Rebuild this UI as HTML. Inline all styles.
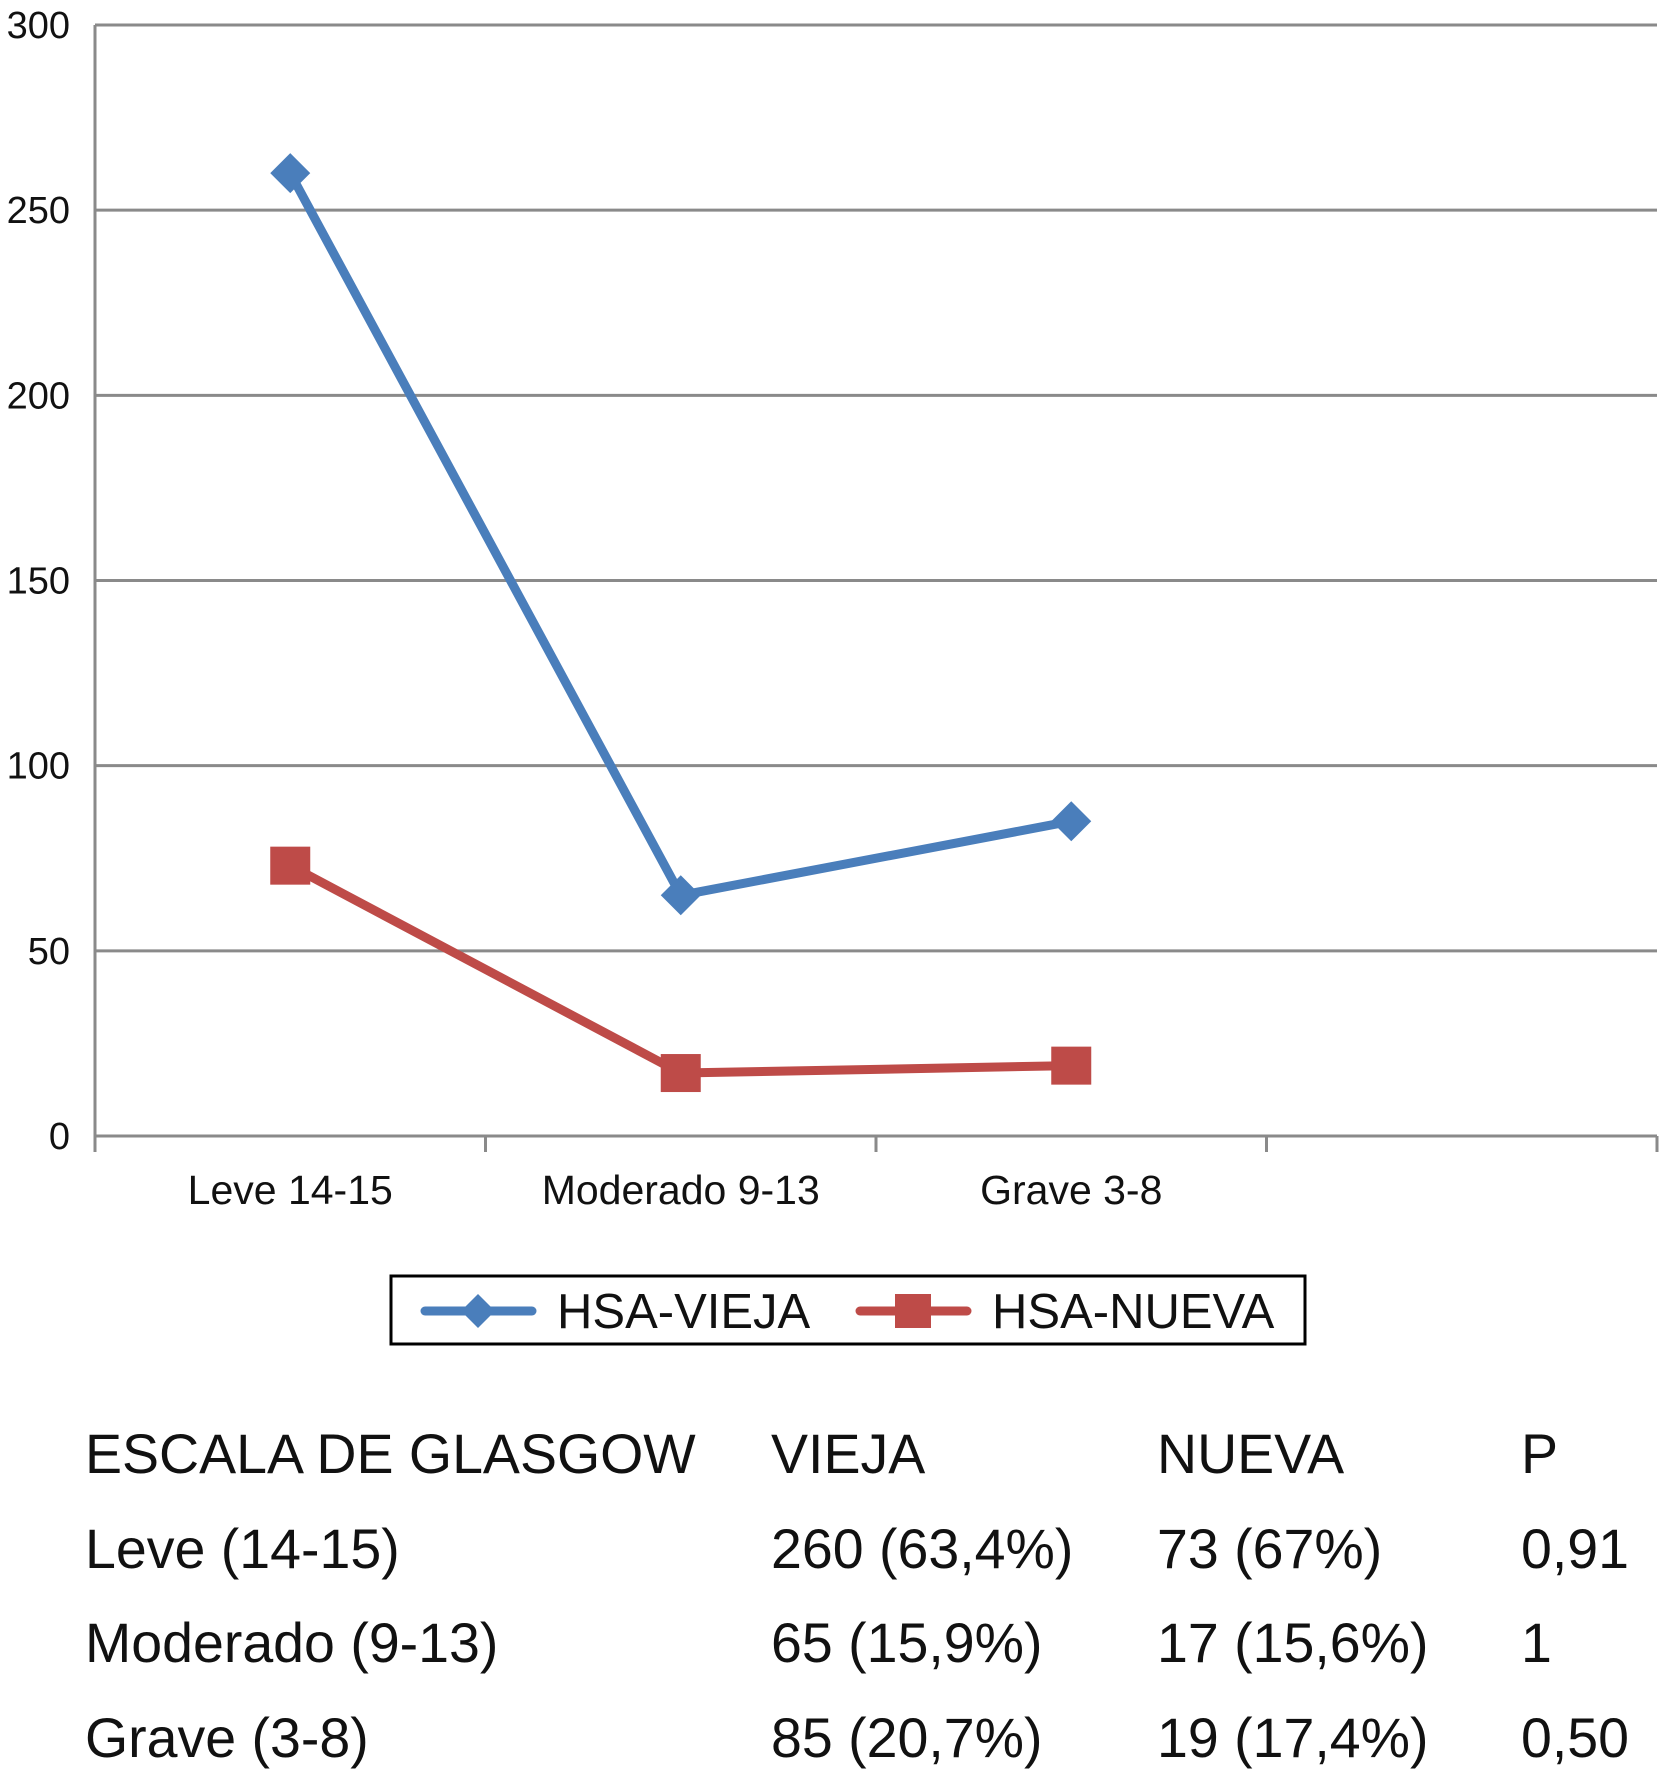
<!DOCTYPE html>
<html><head><meta charset="utf-8"><style>
body{margin:0;background:#fff;width:1659px;height:1770px;overflow:hidden}
svg{display:block}
text{font-family:"Liberation Sans",Arial,sans-serif;fill:#111}
</style></head><body>
<svg id="chart" width="1659" height="1770" viewBox="0 0 1659 1770"></svg>
<script>
const categories=["Leve 14-15","Moderado 9-13","Grave 3-8"];
const vieja=[260,65,85];
const nueva=[73,17,19];
const yTicks=[0,50,100,150,200,250,300];
const legendLabels=["HSA-VIEJA","HSA-NUEVA"];
const tableHeader=["ESCALA DE GLASGOW","VIEJA","NUEVA","P"];
const tableRows=[["Leve (14-15)","260 (63,4%)","73 (67%)","0,91"],["Moderado (9-13)","65 (15,9%)","17 (15,6%)","1"],["Grave (3-8)","85 (20,7%)","19 (17,4%)","0,50"]];
const NS="http://www.w3.org/2000/svg";
const svg=document.getElementById('chart');
const L=95,R=1657,T=25,B=1136,nSlots=4;
const slotW=(R-L)/nSlots;
const x=i=>L+slotW*(i+0.5);
const y=v=>B-(v/300)*(B-T);
function el(tag,attrs,parent){const e=document.createElementNS(NS,tag);for(const k in attrs)e.setAttribute(k,attrs[k]);(parent||svg).appendChild(e);return e;}
yTicks.forEach(t=>{
 const g=el('line',{x1:L,x2:R,y1:y(t),y2:y(t),stroke:'#8a8a8a','stroke-width':3});
 
 
 const tx=el('text',{x:70,y:y(t)+13,'text-anchor':'end','font-size':38});
 tx.textContent=t;
 
 
});
const ax=el('line',{x1:L,x2:L,y1:T,y2:B+14,stroke:'#8a8a8a','stroke-width':3});


for(let i=0;i<=nSlots;i++){
 const tk=el('line',{x1:L+slotW*i,x2:L+slotW*i,y1:B,y2:B+16,stroke:'#8a8a8a','stroke-width':3});
 
 
}
categories.forEach((c,i)=>{
 const tx=el('text',{x:x(i),y:1204,'text-anchor':'middle','font-size':41});
 tx.textContent=c;
 
 
});
function series(vals,color,marker,name){
 const pl=el('polyline',{points:vals.map((v,i)=>x(i)+','+y(v)).join(' '),fill:'none',stroke:color,'stroke-width':9,'stroke-linejoin':'round'});
 
 
 vals.forEach((v,i)=>{
  let m;
  if(marker==='d'){const cx=x(i),cy=y(v),s=20;m=el('polygon',{points:`${cx},${cy-s} ${cx+s},${cy} ${cx},${cy+s} ${cx-s},${cy}`,fill:color});}
  else{m=el('rect',{x:x(i)-20,y:y(v)-19,width:40,height:38,fill:color});}
  
  
 });
}
series(vieja,'#4a7ebb','d','vieja');
series(nueva,'#be4b48','s','nueva');
const lb=el('rect',{x:391,y:1276,width:914,height:68,fill:'none',stroke:'#000','stroke-width':3});


[[0,'#4a7ebb','d',425],[1,'#be4b48','s',860]].forEach(([k,c,m,lx])=>{
 const l=el('line',{x1:lx,x2:lx+107,y1:1311,y2:1311,stroke:c,'stroke-width':9,'stroke-linecap':'round'});
 
 
 const cx=lx+53;let mk;
 if(m==='d')mk=el('polygon',{points:`${cx},${1294} ${cx+17},1311 ${cx},1328 ${cx-17},1311`,fill:c});
 else mk=el('rect',{x:cx-18,y:1294,width:36,height:34,fill:c});
 
 
 const t=el('text',{x:lx+132,y:1328,'font-size':49});
 t.textContent=legendLabels[k];
 
 
});
const colX=[85,771,1157,1521];
const rowY=[1473,1568,1662,1757];
[tableHeader,...tableRows].forEach((row,r)=>{
 row.forEach((cell,c)=>{
  const t=el('text',{x:colX[c],y:rowY[r],'font-size':55.5});
  t.textContent=cell;
  
  
 });
});
</script>
</body></html>
